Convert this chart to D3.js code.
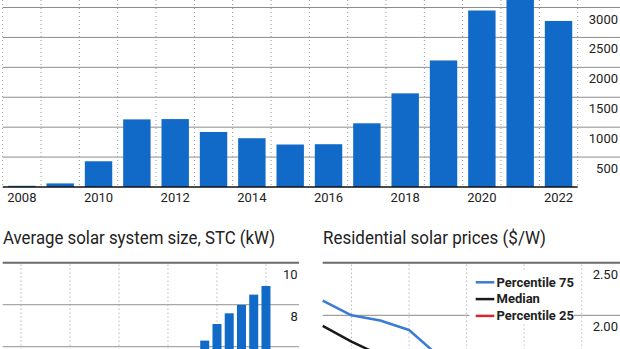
<!DOCTYPE html>
<html>
<head>
<meta charset="utf-8">
<script src="https://cdn.jsdelivr.net/npm/d3@7"></script>
<style>
  html, body { margin: 0; padding: 0; background: #fff; }
  svg { display: block; font-family: Roboto, "Noto Sans", sans-serif; }
</style>
</head>
<body>
<svg id="chart" width="620" height="349"></svg>
<script>
// Annual installations (top panel)
const installYears = [2008, 2009, 2010, 2011, 2012, 2013, 2014, 2015, 2016, 2017, 2018, 2019, 2020, 2021, 2022];
const installValues = [20, 60, 430, 1130, 1135, 920, 815, 710, 715, 1065, 1565, 2115, 2950, 3330, 2775];
const installTicks = [500, 1000, 1500, 2000, 2500, 3000];
const installLabelYears = [2008, 2010, 2012, 2014, 2016, 2018, 2020, 2022];

// Average solar system size, STC (kW)
const sizeYears = [2001, 2002, 2003, 2004, 2005, 2006, 2007, 2008, 2009, 2010, 2011,
                   2012, 2013, 2014, 2015, 2016, 2017, 2018, 2019, 2020, 2021, 2022];
const sizeValues = [1.0, 1.1, 1.2, 1.3, 1.3, 1.4, 1.4, 1.5, 1.6, 2.0, 2.6,
                    3.3, 3.9, 4.5, 4.9, 5.4, 6.29, 7.08, 7.59, 7.99, 8.48, 8.89];
const sizeTicks = [2, 4, 6, 8, 10];
const sizeGridYears = [2002, 2006, 2010, 2014, 2018, 2022];

// Residential solar prices ($/W)
const priceYears = [2013, 2014, 2015, 2016, 2017, 2018, 2019, 2020, 2021, 2022];
const priceP75 = [2.14, 2.0, 1.95, 1.86, 1.62, 1.55, 1.50, 1.45, 1.40, 1.45];
const priceMedian = [1.90, 1.75, 1.62, 1.55, 1.35, 1.25, 1.18, 1.12, 1.08, 1.12];
const priceP25 = [1.60, 1.52, 1.44, 1.35, 1.15, 1.05, 1.00, 0.95, 0.92, 0.96];
const priceTicks = [1.5, 2.0, 2.5];
const priceGridYears = [2014, 2016, 2018, 2020, 2022];
const priceSeries = [
  { name: "Percentile 75", values: priceP75, color: "#3a7bd5" },
  { name: "Median", values: priceMedian, color: "#1a1a1a" },
  { name: "Percentile 25", values: priceP25, color: "#d7262f" }
];

const W = 620, H = 349;
const BAR = "#126ac8";
const GRID = "#8c8c8c";
const DOT = "#9a9a9a";
const TOPLINE = "#6b6b6b";
const TEXT = "#222";

const svg = d3.select("#chart");
// a tick label is only drawn when it lands inside the drawing
const inView = yPos => yPos < H - 2;

// ---------- Top panel: installations ----------
{
  const g = svg.append("g");
  const x = d3.scaleBand().domain(installYears).range([2.7, 577.7])
    .paddingInner(0.285).paddingOuter(0.1425);
  const y = d3.scaleLinear().domain([0, 3000]).range([187, 7.5]);
  const step = x.step();

  g.selectAll("line.grid").data(installTicks).join("line")
    .attr("x1", 2.7).attr("x2", W)
    .attr("y1", d => y(d)).attr("y2", d => y(d))
    .attr("stroke", GRID).attr("stroke-width", 1);

  g.selectAll("line.vdot").data(d3.range(installYears.length + 1)).join("line")
    .attr("x1", i => x.range()[0] + i * step).attr("x2", i => x.range()[0] + i * step)
    .attr("y1", 0).attr("y2", y(0))
    .attr("stroke", DOT).attr("stroke-width", 1).attr("stroke-dasharray", "1,3");

  g.selectAll("rect").data(installYears).join("rect")
    .attr("x", d => x(d)).attr("width", x.bandwidth())
    .attr("y", (d, i) => y(installValues[i]))
    .attr("height", (d, i) => y(0) - y(installValues[i]))
    .attr("fill", BAR);

  g.append("line").attr("x1", 2.7).attr("x2", 577.7)
    .attr("y1", y(0)).attr("y2", y(0))
    .attr("stroke", "#111").attr("stroke-width", 1.5);

  g.selectAll("text.yl").data(installTicks).join("text")
    .attr("x", 618).attr("y", d => y(d) + 16)
    .attr("text-anchor", "end").attr("font-size", 13).attr("fill", TEXT)
    .text(d => d);

  g.selectAll("text.xl").data(installLabelYears).join("text")
    .attr("x", d => x(d) + x.bandwidth() / 2).attr("y", 201.7)
    .attr("text-anchor", "middle").attr("font-size", 13).attr("fill", TEXT)
    .text(d => d);
}

// ---------- Bottom-left panel: system size ----------
{
  const g = svg.append("g");
  g.append("text").attr("x", 3).attr("y", 243.5)
    .attr("font-size", 18.5).attr("fill", TEXT)
    .attr("textLength", 272).attr("lengthAdjust", "spacingAndGlyphs")
    .text("Average solar system size, STC (kW)");

  const x = d3.scaleBand().domain(sizeYears).range([2.6, 272.1])
    .paddingInner(0.265).paddingOuter(0.1325);
  const y = d3.scaleLinear().domain([0, 10]).range([472.7, 262.7]);

  g.selectAll("line.grid").data(sizeTicks.filter(d => d < 10)).join("line")
    .attr("x1", 2.7).attr("x2", 299)
    .attr("y1", d => y(d)).attr("y2", d => y(d))
    .attr("stroke", "#a8a8a8").attr("stroke-width", 1.2);

  g.selectAll("line.vdot").data(sizeGridYears).join("line")
    .attr("x1", d => x(d) + x.bandwidth() / 2).attr("x2", d => x(d) + x.bandwidth() / 2)
    .attr("y1", y(10) + 2).attr("y2", H)
    .attr("stroke", DOT).attr("stroke-width", 1).attr("stroke-dasharray", "1,3");

  g.selectAll("rect").data(sizeYears).join("rect")
    .attr("x", d => x(d)).attr("width", x.bandwidth())
    .attr("y", (d, i) => y(sizeValues[i]))
    .attr("height", (d, i) => y(0) - y(sizeValues[i]))
    .attr("fill", BAR);

  g.append("line").attr("x1", 2.7).attr("x2", 299)
    .attr("y1", y(10)).attr("y2", y(10))
    .attr("stroke", TOPLINE).attr("stroke-width", 2);

  g.selectAll("text.yl").data(sizeTicks.filter(d => inView(y(d) + 16))).join("text")
    .attr("x", 297.7).attr("y", d => y(d) + 16)
    .attr("text-anchor", "end").attr("font-size", 13).attr("fill", TEXT)
    .text(d => d);
}

// ---------- Bottom-right panel: prices ----------
{
  const g = svg.append("g");
  g.append("text").attr("x", 323).attr("y", 243.5)
    .attr("font-size", 18.5).attr("fill", TEXT)
    .attr("textLength", 223).attr("lengthAdjust", "spacingAndGlyphs")
    .text("Residential solar prices ($/W)");

  const x = d3.scaleLinear().domain([2013, 2022]).range([322.7, 581.7]);
  const y = d3.scaleLinear().domain([2.0, 2.5]).range([315.3, 262.7]);

  g.selectAll("line.grid").data(priceTicks.filter(d => d < 2.5)).join("line")
    .attr("x1", 322.7).attr("x2", W)
    .attr("y1", d => y(d)).attr("y2", d => y(d))
    .attr("stroke", "#a0a0a0").attr("stroke-width", 1.2);

  g.selectAll("line.vdot").data(priceGridYears).join("line")
    .attr("x1", d => x(d)).attr("x2", d => x(d))
    .attr("y1", y(2.5) + 2).attr("y2", H)
    .attr("stroke", DOT).attr("stroke-width", 1).attr("stroke-dasharray", "1,3");

  g.append("line").attr("x1", 322.7).attr("x2", W)
    .attr("y1", y(2.5)).attr("y2", y(2.5))
    .attr("stroke", TOPLINE).attr("stroke-width", 2);

  const line = d3.line().x((d, i) => x(priceYears[i])).y(d => y(d));
  g.selectAll("path.series").data(priceSeries.slice().reverse()).join("path")
    .attr("d", s => line(s.values))
    .attr("fill", "none").attr("stroke", s => s.color)
    .attr("stroke-width", 2.5).attr("stroke-linejoin", "round");

  g.selectAll("text.yl").data(priceTicks.filter(d => inView(y(d) + 16))).join("text")
    .attr("x", 618).attr("y", d => y(d) + 16)
    .attr("text-anchor", "end").attr("font-size", 13).attr("fill", TEXT)
    .text(d => d3.format(".2f")(d));

  // Legend with a white backing box
  const lg = g.append("g");
  lg.append("rect").attr("x", 469.5).attr("y", 270).attr("width", 104.5).attr("height", 52)
    .attr("fill", "#fff");
  const rows = lg.selectAll("g.row").data(priceSeries).join("g")
    .attr("transform", (d, i) => `translate(0, ${282.3 + i * 16.8})`);
  rows.append("line").attr("x1", 475.7).attr("x2", 494.3)
    .attr("stroke", d => d.color).attr("stroke-width", 2.5);
  rows.append("text").attr("x", 496.5).attr("y", 4.2)
    .attr("font-size", 13).attr("font-weight", "bold").attr("fill", TEXT)
    .text(d => d.name);
}
</script>
</body>
</html>
